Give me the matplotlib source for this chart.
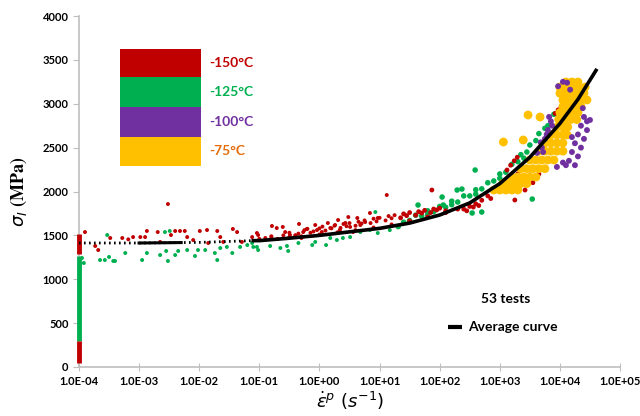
import numpy as np
import matplotlib
matplotlib.use('Agg')
import matplotlib.pyplot as plt
from matplotlib.patches import Rectangle

# ---- data (log10 of strain rate, stress in MPa) ----
red_lx = [-3.90, -3.73, -3.68, -3.48, -3.28, -3.18, -3.10, -2.98, -2.90, -2.87, -2.69, -2.65, -2.52,
          -2.47, -2.40, -2.32, -2.24, -2.20, -2.10, -1.99, -1.87, -1.85, -1.70, -1.65, -1.60, -1.44,
          -1.37, -1.29, -1.12, -1.04, -1.02, -0.90, -0.80, -0.79, -0.71, -0.70, -0.61, -0.57, -0.50,
          -0.49, -0.40, -0.34, -0.30, -0.27, -0.21, -0.07, -0.04, 0.04, 0.14, 0.18, 0.26, 0.31, 0.34,
          0.43, 0.48, 0.51, 0.56, 0.63, 0.68, 0.76, 0.84, 0.97, 1.12, 1.87,
          -0.5, -0.25, 0.0, 0.25, 0.5, 0.75, 1.0, 1.25, 1.5, 1.75, 2.0,
          -0.4, -0.15, 0.1, 0.35, 0.6, 0.85, 1.1, 1.35, 1.6, 1.85, 2.1,
          -0.3, 0.0, 0.3, 0.6, 0.9, 1.2, 1.5, 1.8, 2.1, 2.3,
          -1.0, -0.8, -0.6, -0.35, -0.1, 0.2, 0.45, 0.7, 0.95, 1.2, 1.45, 1.7, 1.95,
          -0.2, 0.05, 0.4, 0.65, 0.9, 1.15, 1.4, 1.65, 1.9,
          2.4, 2.5, 2.6, 2.7, 2.8, 2.9, 3.0, 3.1, 3.2, 3.3,
          2.45, 2.65, 2.85, 3.05, 3.25, 3.45, 3.55, 3.65,
          3.12, 3.18, 3.24, 3.29, 3.92, 3.97, 4.02, 4.05, 3.50, 3.62, 3.42, 2.56, 3.25]
red_y = [1538, 1379, 1333, 1470, 1470, 1455, 1481, 1481, 1481, 1550, 1538, 1425, 1857,
         1504, 1550, 1550, 1550, 1481, 1447, 1550, 1561, 1413, 1550, 1481, 1425, 1573,
         1538, 1425, 1481, 1527, 1504, 1470, 1490, 1607, 1584, 1460, 1596, 1538, 1480,
         1504, 1500, 1630, 1470, 1538, 1573, 1618, 1561, 1538, 1641, 1584, 1618, 1675, 1561,
         1641, 1709, 1596, 1538, 1698, 1618, 1652, 1755, 1698, 1960, 2017,
         1530, 1560, 1580, 1610, 1640, 1670, 1700, 1730, 1760, 1785, 1810,
         1500, 1530, 1555, 1585, 1610, 1640, 1670, 1700, 1730, 1760, 1780,
         1490, 1510, 1535, 1560, 1590, 1625, 1665, 1710, 1760, 1800,
         1460, 1480, 1500, 1520, 1545, 1580, 1605, 1635, 1660, 1695, 1725, 1755, 1790,
         1575, 1600, 1630, 1655, 1690, 1720, 1745, 1770, 1800,
         1800, 1830, 1860, 1900, 1950, 2000, 2050, 2100, 2150, 2200,
         1780, 1840, 1920, 2010, 2100, 2150, 2100, 2200,
         2245, 2300, 2350, 2390, 2890, 2930, 2960, 2900, 2245, 2154, 2017, 1823, 1903]

green_lx = [-3.95, -3.92, -3.65, -3.57, -3.53, -3.50, -3.43, -3.40, -3.23, -2.95, -2.87, -2.65, -2.57,
            -2.49, -2.55, -2.52, -2.40, -2.35, -2.20, -2.07, -2.02, -1.90, -1.74, -1.70, -1.65, -1.54,
            -1.45, -1.32, -1.20, -1.12, -1.04, -1.10, -1.02, -0.82, -0.65, -0.54, -0.52, -0.35, -0.12,
            -0.07, 0.11, 0.18, 0.29, 0.39, 0.51, 0.68, 0.84, 0.93, 0.97, 1.17, 1.31,
            1.5, 1.7, 1.9, 2.1, 2.3, 2.5, 2.7, 2.9, 3.1, 3.3, 3.45, 3.6, 3.75, 3.9,
            1.6, 1.8, 2.0, 2.2, 2.4, 2.6, 2.8, 3.0, 3.2, 3.35, 3.5, 3.65,
            1.4, 1.8, 2.2, 2.6, 3.0, 3.4, 3.8,
            2.59, 2.54, 2.70, 3.54, 2.29, 2.37, 2.04, 2.06, 1.64]
green_y = [1242, 1185, 1219, 1219, 1504, 1254, 1208, 1208, 1299, 1219, 1299, 1276, 1538,
           1550, 1322, 1208, 1276, 1322, 1333, 1265, 1333, 1333, 1299, 1219, 1356, 1368,
           1299, 1368, 1390, 1413, 1368, 1368, 1333, 1379, 1356, 1379, 1322, 1413, 1390,
           1425, 1390, 1470, 1447, 1470, 1481, 1538, 1561, 1766, 1527, 1560, 1600,
           1670, 1720, 1770, 1820, 1880, 1950, 2030, 2120, 2220, 2340, 2450, 2580, 2720, 2880,
           1730, 1780, 1830, 1890, 1950, 2020, 2100, 2200, 2310, 2420, 2530, 2660,
           1650, 1740, 1850, 1970, 2150, 2380, 2750,
           2245, 1755, 1766, 1914, 2017, 2028, 1937, 1846, 1846]

yellow_lx = [2.9, 3.0, 3.1, 3.2, 3.3,
             3.05, 3.15, 3.25, 3.35, 3.45,
             3.2, 3.3, 3.4, 3.5, 3.6,
             3.35, 3.45, 3.55, 3.65, 3.75,
             3.5, 3.6, 3.7, 3.8, 3.9,
             3.65, 3.75, 3.85, 3.95, 4.05,
             3.75, 3.85, 3.95, 4.05,
             3.85, 3.95, 4.05, 4.12,
             3.95, 4.05, 4.13,
             3.98, 4.08, 4.18, 4.28,
             4.0, 4.1, 4.2, 4.3,
             4.05, 4.15, 4.25, 4.35,
             4.05, 4.15, 4.25, 4.35, 4.45,
             4.0, 4.1, 4.2, 4.3, 4.4,
             4.0, 4.1, 4.2, 4.3, 4.42,
             4.1, 4.2, 4.3,
             3.06, 3.39, 3.47, 3.67]
yellow_y = [2017] * 5 + [2090] * 5 + [2165] * 5 + [2260] * 5 + [2359] * 5 + [2460] * 5 + \
           [2553] * 4 + [2645] * 4 + [2735] * 3 + [2820] * 4 + [2900] * 4 + [2970] * 4 + \
           [3043] * 5 + [3120] * 5 + [3190] * 5 + [3248] * 3 + \
           [2564, 2587, 2872, 2849]

purple_lx = [3.62, 3.70, 3.75, 3.80, 3.85, 3.68, 3.78, 3.87, 3.72, 3.82,
             4.15, 4.20, 4.25, 4.30, 4.35, 4.40, 4.45, 4.50, 4.30, 4.25, 4.40, 4.45, 4.20, 4.35,
             4.10, 3.95, 4.05, 4.38,
             3.97, 4.05, 4.12, 4.17]
purple_y = [2440, 2500, 2600, 2700, 2800, 2560, 2650, 2750, 2450, 2850,
            2350, 2450, 2550, 2650, 2750, 2850, 2800, 2815, 2400, 2300, 2600, 2700, 2620, 2500,
            2300, 2280, 2330, 2950,
            3200, 3250, 3240, 3160]

# points stacked on the y axis at the lowest rate (ymin, ymax)
red_axis = [(50, 300), (1290, 1520)]
green_axis = [(300, 1260)]

avg_lx = [-4.0, -3.0, -2.3, -2.0, -1.1, -1.0, -0.5, 0.0, 0.5, 1.0, 1.5, 2.0, 2.5, 3.0, 3.5, 4.0, 4.3, 4.6]
avg_y = [1413, 1413, 1418, 1420, 1440, 1440, 1468, 1500, 1540, 1580, 1640, 1732, 1870, 2090, 2390, 2775, 3050, 3380]

xtick_labels = ['1.0E-04', '1.0E-03', '1.0E-02', '1.0E-01', '1.0E+00',
                '1.0E+01', '1.0E+02', '1.0E+03', '1.0E+04', '1.0E+05']
legend_labels = ['-150°C', '-125°C', '-100°C', '-75°C']

RED, GREEN, PURPLE, YELLOW = '#C00000', '#00B050', '#7030A0', '#FFC000'
legend_colors = [RED, GREEN, PURPLE, YELLOW]
legend_text_colors = [RED, GREEN, PURPLE, '#E46C0A']

fig = plt.figure(figsize=(6.4, 4.16), dpi=100)
ax = fig.add_axes([0.1234, 0.1178, 0.8454, 0.8437])
ax.set_xscale('log')
ax.set_xlim(1e-4, 1e5)
ax.set_ylim(0, 4000)

# stacked points on the axis
for lo, hi in green_axis:
    ax.vlines(1e-4, lo, hi, color=GREEN, lw=3.5, clip_on=False, zorder=3)
for lo, hi in red_axis:
    ax.vlines(1e-4, lo, hi, color=RED, lw=3.5, clip_on=False, zorder=3)

def sc(lx, y, color, big, z):
    lx = np.array(lx)
    y = np.array(y)
    s = np.where(lx > 1.3, big, 8)
    ax.scatter(np.power(10.0, lx), y, s=s, color=color, marker='o', linewidths=0, zorder=z)

sc(green_lx, green_y, GREEN, 16, 3)
sc(red_lx, red_y, RED, 12, 4)
sc(yellow_lx, yellow_y, YELLOW, 40, 5)
sc(purple_lx, purple_y, PURPLE, 18, 6)

# average curve
ax_x = np.power(10.0, np.array(avg_lx))
ax.plot(ax_x[:5], avg_y[:5], color='black', lw=2, ls=(0, (0.6, 1.2)), zorder=7)
ax.plot(ax_x[1:3], avg_y[1:3], color='black', lw=2.2, zorder=7)
ax.plot(ax_x[4:], avg_y[4:], color='black', lw=2.6, zorder=7)

# axes style
for s in ['top', 'right']:
    ax.spines[s].set_visible(False)
for s in ['left', 'bottom']:
    ax.spines[s].set_color('#BFBFBF')
    ax.spines[s].set_linewidth(1.2)
ax.set_xticks(np.power(10.0, np.arange(-4, 6)))
ax.set_xticklabels(xtick_labels)
ax.xaxis.set_minor_locator(matplotlib.ticker.NullLocator())
ax.set_yticks(np.arange(0, 4001, 500))
ax.tick_params(axis='both', colors='#BFBFBF', length=4, labelcolor='black', labelsize=8)
ax.tick_params(axis='x', direction='inout', length=6)
for lab in ax.get_xticklabels() + ax.get_yticklabels():
    lab.set_fontfamily('Lato')
    lab.set_fontweight('bold')

plt.rcParams['mathtext.fontset'] = 'stix'
ax.set_ylabel(r'$\sigma_I$ (MPa)', fontsize=13, family='STIXGeneral', fontweight='bold', labelpad=10)
ax.set_xlabel(r'$\dot{\varepsilon}^{p}\ (s^{-1})$', fontsize=13, labelpad=2)

# colour legend
tops = [0.906, 0.826, 0.741, 0.655]
bots = [0.826, 0.741, 0.655, 0.573]
for i in range(4):
    ax.add_patch(Rectangle((0.0758, bots[i]), 0.1497, tops[i] - bots[i], transform=ax.transAxes,
                           color=legend_colors[i], lw=0, zorder=8))
    ax.text(0.240, (tops[i] + bots[i]) / 2, legend_labels[i], transform=ax.transAxes, fontsize=10,
            fontweight='bold', family='Lato', color=legend_text_colors[i], va='center', ha='left')

ax.text(0.789, 0.194, '53 tests', transform=ax.transAxes, fontsize=10, fontweight='bold',
        family='Lato', ha='center', va='center')
ax.plot([0.682, 0.708], [0.114, 0.114], transform=ax.transAxes, color='black', lw=3, solid_capstyle='butt')
ax.text(0.719, 0.114, 'Average curve', transform=ax.transAxes, fontsize=10, fontweight='bold',
        family='Lato', ha='left', va='center')

fig.savefig('out.png', dpi=100)
